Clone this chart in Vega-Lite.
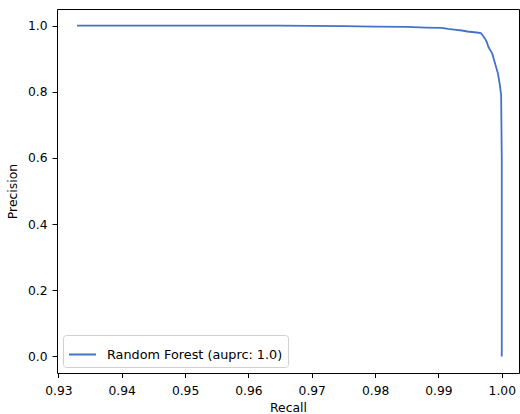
{
  "$schema": "https://vega.github.io/schema/vega-lite/v6.json",
  "autosize": {"type": "none"},
  "padding": {"left": 57, "top": 9, "right": 1, "bottom": 41},
  "width": 462,
  "height": 364,
  "background": "white",
  "config": {
    "font": "DejaVu Sans",
    "view": {"stroke": "#000", "strokeWidth": 1},
    "axis": {
      "domain": false,
      "grid": false,
      "tickColor": "#000",
      "tickWidth": 1,
      "labelFont": "DejaVu Sans",
      "labelFontSize": 12.3,
      "labelColor": "#000",
      "titleFont": "DejaVu Sans",
      "titleFontSize": 12.4,
      "titleFontWeight": "normal",
      "titleColor": "#000"
    }
  },
  "data": {
    "values": [
      {"i": 0, "recall": 0.93294, "precision": 1.0, "model": "Random Forest (auprc: 1.0)"},
      {"i": 1, "recall": 0.95, "precision": 1.0, "model": "Random Forest (auprc: 1.0)"},
      {"i": 2, "recall": 0.965, "precision": 0.9995, "model": "Random Forest (auprc: 1.0)"},
      {"i": 3, "recall": 0.975, "precision": 0.998, "model": "Random Forest (auprc: 1.0)"},
      {"i": 4, "recall": 0.98, "precision": 0.997, "model": "Random Forest (auprc: 1.0)"},
      {"i": 5, "recall": 0.985, "precision": 0.996, "model": "Random Forest (auprc: 1.0)"},
      {"i": 6, "recall": 0.988, "precision": 0.994, "model": "Random Forest (auprc: 1.0)"},
      {"i": 7, "recall": 0.9905, "precision": 0.993, "model": "Random Forest (auprc: 1.0)"},
      {"i": 8, "recall": 0.9915, "precision": 0.99, "model": "Random Forest (auprc: 1.0)"},
      {"i": 9, "recall": 0.9928, "precision": 0.987, "model": "Random Forest (auprc: 1.0)"},
      {"i": 10, "recall": 0.9937, "precision": 0.985, "model": "Random Forest (auprc: 1.0)"},
      {"i": 11, "recall": 0.9946, "precision": 0.982, "model": "Random Forest (auprc: 1.0)"},
      {"i": 12, "recall": 0.996, "precision": 0.979, "model": "Random Forest (auprc: 1.0)"},
      {"i": 13, "recall": 0.9967, "precision": 0.977, "model": "Random Forest (auprc: 1.0)"},
      {"i": 14, "recall": 0.997, "precision": 0.97, "model": "Random Forest (auprc: 1.0)"},
      {"i": 15, "recall": 0.9973, "precision": 0.962, "model": "Random Forest (auprc: 1.0)"},
      {"i": 16, "recall": 0.9976, "precision": 0.952, "model": "Random Forest (auprc: 1.0)"},
      {"i": 17, "recall": 0.9979, "precision": 0.935, "model": "Random Forest (auprc: 1.0)"},
      {"i": 18, "recall": 0.9982, "precision": 0.925, "model": "Random Forest (auprc: 1.0)"},
      {"i": 19, "recall": 0.9985, "precision": 0.915, "model": "Random Forest (auprc: 1.0)"},
      {"i": 20, "recall": 0.9988, "precision": 0.895, "model": "Random Forest (auprc: 1.0)"},
      {"i": 21, "recall": 0.9991, "precision": 0.875, "model": "Random Forest (auprc: 1.0)"},
      {"i": 22, "recall": 0.9994, "precision": 0.855, "model": "Random Forest (auprc: 1.0)"},
      {"i": 23, "recall": 0.9997, "precision": 0.82, "model": "Random Forest (auprc: 1.0)"},
      {"i": 24, "recall": 0.9999, "precision": 0.79, "model": "Random Forest (auprc: 1.0)"},
      {"i": 25, "recall": 1.0, "precision": 0.6, "model": "Random Forest (auprc: 1.0)"},
      {"i": 26, "recall": 1.0, "precision": 0.0, "model": "Random Forest (auprc: 1.0)"}
    ]
  },
  "mark": {"type": "line", "strokeWidth": 1.8, "clip": true},
  "encoding": {
    "x": {
      "field": "recall",
      "type": "quantitative",
      "title": "Recall",
      "scale": {"domain": [0.92978, 1.00272], "zero": false, "nice": false},
      "axis": {"values": [0.93, 0.94, 0.95, 0.96, 0.97, 0.98, 0.99, 1.0], "format": ".2f", "tickSize": 4.5, "labelPadding": 7, "titlePadding": 5}
    },
    "y": {
      "field": "precision",
      "type": "quantitative",
      "title": "Precision",
      "scale": {"domain": [-0.05, 1.05], "zero": false, "nice": false},
      "axis": {"values": [0, 0.2, 0.4, 0.6, 0.8, 1.0], "format": ".1f", "tickSize": 5, "labelPadding": 5, "titlePadding": 8}
    },
    "order": {"field": "i", "type": "quantitative"},
    "color": {
      "field": "model",
      "type": "nominal",
      "scale": {"range": ["#4472c4"]},
      "legend": {
        "title": null,
        "orient": "bottom-left",
        "offset": 6,
        "padding": 5,
        "strokeColor": "#d0d0d0",
        "fillColor": "white",
        "cornerRadius": 3,
        "symbolType": "stroke",
        "symbolSize": 729,
        "symbolStrokeWidth": 2,
        "labelFontSize": 12.8,
        "labelColor": "#000",
        "labelFont": "DejaVu Sans",
        "labelOffset": 10,
        "labelLimit": 400
      }
    }
  }
}
